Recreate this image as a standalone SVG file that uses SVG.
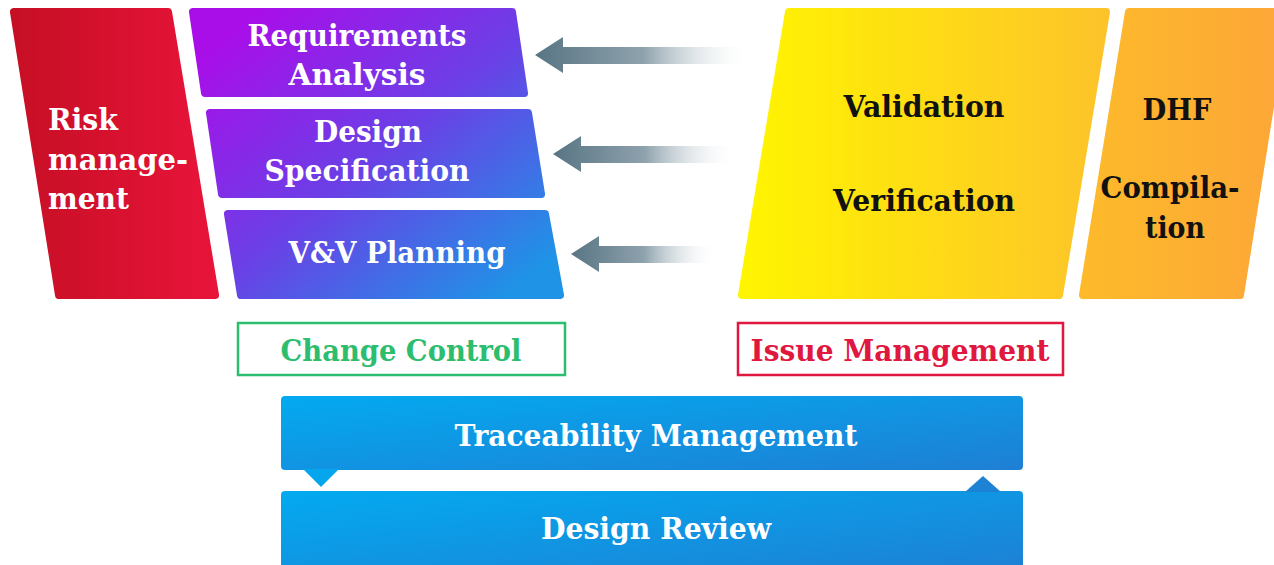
<svg xmlns="http://www.w3.org/2000/svg" width="1274" height="565" viewBox="0 0 1274 565">
<style>
.t{font-family:"DejaVu Serif","Liberation Serif",serif;font-weight:bold;font-size:30px}
.w{fill:#ffffff}
.k{fill:#111111}
.m{text-anchor:middle}
.sh{stroke-linejoin:round;stroke-width:8}
</style>
<defs>
<linearGradient id="gRed" x1="0" y1="0" x2="1" y2="0">
<stop offset="0" stop-color="#c60f24"/><stop offset="1" stop-color="#e8143a"/>
</linearGradient>
<linearGradient id="gLeft" gradientUnits="userSpaceOnUse" x1="260" y1="8" x2="500" y2="299">
<stop offset="0" stop-color="#a90ee9"/><stop offset="0.5" stop-color="#6a40e6"/><stop offset="1" stop-color="#1f93e6"/>
</linearGradient>
<linearGradient id="gYel" x1="0" y1="0" x2="1" y2="0">
<stop offset="0" stop-color="#fff500"/><stop offset="1" stop-color="#fdc32a"/>
</linearGradient>
<linearGradient id="gOr" x1="0" y1="0" x2="1" y2="0">
<stop offset="0" stop-color="#fdba2a"/><stop offset="1" stop-color="#fca638"/>
</linearGradient>
<linearGradient id="gBlue" x1="0" y1="0" x2="1" y2="1">
<stop offset="0" stop-color="#03aaf0"/><stop offset="1" stop-color="#1e7fd4"/>
</linearGradient>
<linearGradient id="gArr" x1="0" y1="0" x2="1" y2="0">
<stop offset="0" stop-color="#587483"/><stop offset="0.5" stop-color="#8ea2ad"/><stop offset="1" stop-color="#ffffff" stop-opacity="0"/>
</linearGradient>
</defs>

<g id="risk">
<polygon class="sh" points="14,12 168,12 215,295 59,295" fill="url(#gRed)" stroke="url(#gRed)"/>
<text class="t w" x="48" y="130" textLength="70" lengthAdjust="spacingAndGlyphs">Risk</text>
<text class="t w" x="48" y="170" textLength="140" lengthAdjust="spacingAndGlyphs">manage-</text>
<text class="t w" x="48" y="209" textLength="81" lengthAdjust="spacingAndGlyphs">ment</text>
</g>

<g id="requirements">
<polygon class="sh" points="193,12 512,12 524,93 205,93" fill="url(#gLeft)" stroke="url(#gLeft)"/>
<text class="t w m" x="357" y="46" textLength="219" lengthAdjust="spacingAndGlyphs">Requirements</text>
<text class="t w m" x="357" y="85" textLength="137" lengthAdjust="spacingAndGlyphs">Analysis</text>
</g>

<g id="design">
<polygon class="sh" points="210,113 528,113 541,194 222,194" fill="url(#gLeft)" stroke="url(#gLeft)"/>
<text class="t w m" x="368" y="142" textLength="108" lengthAdjust="spacingAndGlyphs">Design</text>
<text class="t w m" x="367" y="181" textLength="205" lengthAdjust="spacingAndGlyphs">Specification</text>
</g>

<g id="vvplanning">
<polygon class="sh" points="228,214 545,214 560,295 241,295" fill="url(#gLeft)" stroke="url(#gLeft)"/>
<text class="t w m" x="397" y="263" textLength="217" lengthAdjust="spacingAndGlyphs">V&amp;V Planning</text>
</g>

<g id="validation">
<polygon class="sh" points="789,12 1106,12 1059,295 742,295" fill="url(#gYel)" stroke="url(#gYel)"/>
<text class="t k m" x="924" y="117" textLength="161" lengthAdjust="spacingAndGlyphs">Validation</text>
<text class="t k m" x="924" y="211" textLength="182" lengthAdjust="spacingAndGlyphs">Verification</text>
</g>

<g id="dhf">
<polygon class="sh" points="1129,12 1285,12 1240,295 1083,295" fill="url(#gOr)" stroke="url(#gOr)"/>
<text class="t k m" x="1177" y="120" textLength="69" lengthAdjust="spacingAndGlyphs">DHF</text>
<text class="t k m" x="1170" y="198" textLength="139" lengthAdjust="spacingAndGlyphs">Compila-</text>
<text class="t k m" x="1175" y="238" textLength="60" lengthAdjust="spacingAndGlyphs">tion</text>
</g>

<g id="changecontrol">
<rect x="238" y="323" width="327" height="52" fill="none" stroke="#2dbd6e" stroke-width="2.5"/>
<text class="t m" x="401" y="361" fill="#2dbd6e" textLength="241" lengthAdjust="spacingAndGlyphs">Change Control</text>
</g>

<g id="issuemanagement">
<rect x="738" y="323" width="325" height="52" fill="none" stroke="#e0173f" stroke-width="2.5"/>
<text class="t m" x="900" y="361" fill="#e0173f" textLength="299" lengthAdjust="spacingAndGlyphs">Issue Management</text>
</g>

<g id="traceability">
<rect x="281" y="396" width="742" height="74" rx="4" fill="url(#gBlue)"/>
<polygon points="303,469 339,469 321,487" fill="#06a6ee"/>
<text class="t w m" x="656" y="446" textLength="403" lengthAdjust="spacingAndGlyphs">Traceability Management</text>
</g>

<g id="designreview">
<rect x="281" y="491" width="742" height="84" rx="4" fill="url(#gBlue)"/>
<polygon points="965,492 1001,492 983,476" fill="#1e82d4"/>
<text class="t w m" x="656" y="539" textLength="230" lengthAdjust="spacingAndGlyphs">Design Review</text>
</g>

<g id="connectors">
<polygon points="535,55 563,37 563,47 752,47 752,64 563,64 563,73" fill="url(#gArr)"/>
<polygon points="553,154 581,136 581,146 737,146 737,163 581,163 581,172" fill="url(#gArr)"/>
<polygon points="571,254 599,236 599,246 717,246 717,263 599,263 599,272" fill="url(#gArr)"/>
</g>
</svg>
